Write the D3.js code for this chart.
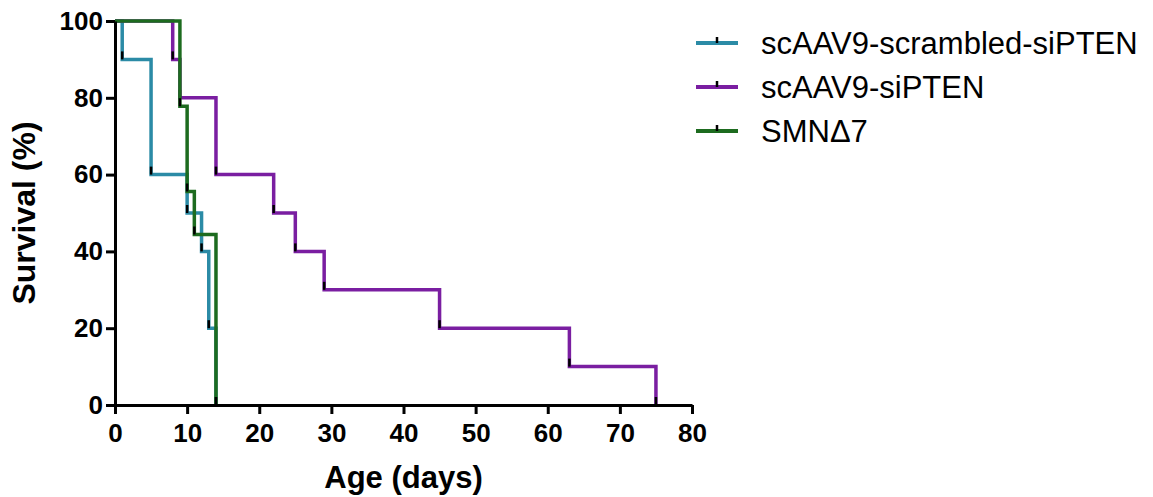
<!DOCTYPE html>
<html lang="en">
<head>
    <meta charset="UTF-8">
    <title>Survival curves</title>
    <style>
        body {
            margin: 0;
            padding: 0;
            background-color: #fff;
            font-family: "Liberation Sans", Arial, sans-serif;
        }

        .axis path,
        .axis line {
            stroke: #000;
            stroke-width: 3px;
        }

        .axis text {
            font-family: "Liberation Sans", Arial, sans-serif;
            font-weight: bold;
            font-size: 26px;
            fill: #000;
        }

        .step {
            fill: none;
            stroke-width: 3.5px;
        }

        .mark {
            stroke: #000;
            stroke-width: 2.5px;
        }
    </style>
</head>
<body>
    <div id="chart"></div>
    <script src="https://d3js.org/d3.v7.min.js"></script>
    <script>
        // Kaplan-Meier steps (days, % surviving)
        const scrambledDays = [0, 1, 5, 10, 12, 13, 14];
        const scrambledSurv = [100, 90, 60, 50, 40, 20, 0];
        const siptenDays = [0, 8, 9, 14, 22, 25, 29, 45, 63, 75];
        const siptenSurv = [100, 90, 80, 60, 50, 40, 30, 20, 10, 0];
        const smnDays = [0, 9, 10, 11, 14];
        const smnSurv = [100, 77.8, 55.6, 44.4, 0];

        const seriesNames = ["scAAV9-scrambled-siPTEN", "scAAV9-siPTEN", "SMN\u03947"];
        const seriesColors = ["#2b8ba6", "#7a1ea1", "#1d6b1f"];
        const xTicks = [0, 10, 20, 30, 40, 50, 60, 70, 80];
        const yTicks = [0, 20, 40, 60, 80, 100];

        const series = [
            { name: seriesNames[0], color: seriesColors[0], days: scrambledDays, surv: scrambledSurv },
            { name: seriesNames[1], color: seriesColors[1], days: siptenDays, surv: siptenSurv },
            { name: seriesNames[2], color: seriesColors[2], days: smnDays, surv: smnSurv }
        ].map(s => ({ ...s, values: s.days.map((d, i) => ({ day: d, surv: s.surv[i] })) }));

        const W = 1153, H = 497;
        const margin = { top: 21, right: 461, bottom: 92, left: 115 };
        const width = W - margin.left - margin.right;
        const height = H - margin.top - margin.bottom;

        const root = d3.select("#chart").append("svg")
            .attr("width", W)
            .attr("height", H);

        const svg = root.append("g")
            .attr("transform", "translate(" + margin.left + "," + margin.top + ")");

        const xScale = d3.scaleLinear().domain([0, 80]).range([0, width]);
        const yScale = d3.scaleLinear().domain([0, 100]).range([height, 0]);

        const line = d3.line()
            .x(d => xScale(d.day))
            .y(d => yScale(d.surv))
            .curve(d3.curveStepAfter);

        // curves
        series.forEach(s => {
            svg.append("path")
                .datum(s.values)
                .attr("class", "step")
                .attr("d", line)
                .style("stroke", s.color);

            svg.selectAll(null)
                .data(s.values.slice(1))
                .enter().append("line")
                .attr("class", "mark")
                .attr("x1", d => xScale(d.day))
                .attr("x2", d => xScale(d.day))
                .attr("y1", d => yScale(d.surv))
                .attr("y2", d => yScale(d.surv) - 8);
        });

        // axes
        svg.append("g")
            .attr("class", "x axis")
            .attr("transform", "translate(0," + height + ")")
            .call(d3.axisBottom(xScale).tickValues(xTicks).tickSize(9).tickSizeOuter(0).tickPadding(10));

        svg.append("g")
            .attr("class", "y axis")
            .call(d3.axisLeft(yScale).tickValues(yTicks).tickSize(9).tickSizeOuter(0).tickPadding(3));

        svg.append("text")
            .attr("transform", "rotate(-90)")
            .attr("x", -height / 2)
            .attr("y", -80)
            .style("text-anchor", "middle")
            .style("font-weight", "bold")
            .style("font-size", "32px")
            .text("Survival (%)");

        svg.append("text")
            .attr("x", width / 2)
            .attr("y", height + 83)
            .style("text-anchor", "middle")
            .style("font-weight", "bold")
            .style("font-size", "31px")
            .text("Age (days)");

        // legend
        const legend = root.append("g")
            .attr("transform", "translate(696,43)");

        const rows = legend.selectAll("g")
            .data(series)
            .enter().append("g")
            .attr("transform", (d, i) => "translate(0," + i * 44 + ")");

        rows.append("line")
            .attr("x1", 0).attr("x2", 42)
            .attr("y1", 0).attr("y2", 0)
            .attr("stroke", d => d.color)
            .attr("stroke-width", 4);

        rows.append("line")
            .attr("class", "mark")
            .attr("x1", 21).attr("x2", 21)
            .attr("y1", 0).attr("y2", -6);

        rows.append("text")
            .attr("x", 65)
            .attr("y", 0)
            .attr("dy", "0.36em")
            .style("font-size", "31px")
            .text(d => d.name);
    </script>
</body>
</html>
